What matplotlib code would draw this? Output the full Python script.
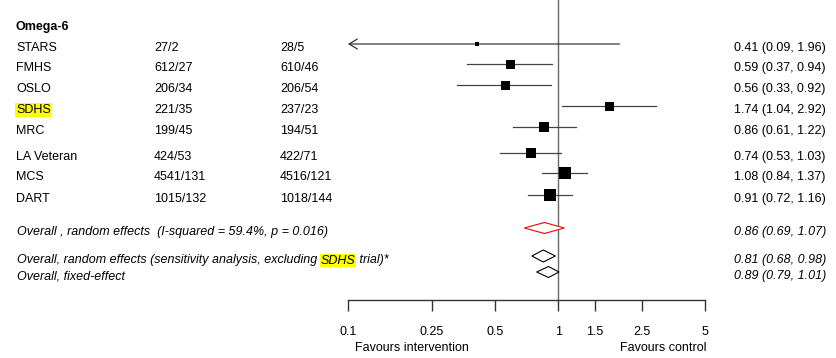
import matplotlib
matplotlib.use('Agg')
import matplotlib.pyplot as plt
import matplotlib.transforms as mtransforms
import numpy as np

plt.rcParams['font.family'] = ['Liberation Sans', 'DejaVu Sans']
plt.rcParams['font.size'] = 9

# study level data
studies = ['STARS', 'FMHS', 'OSLO', 'SDHS', 'MRC', 'LA Veteran', 'MCS', 'DART']
intervention = ['27/2', '612/27', '206/34', '221/35', '199/45', '424/53', '4541/131', '1015/132']
control = ['28/5', '610/46', '206/54', '237/23', '194/51', '422/71', '4516/121', '1018/144']
rr = [0.41, 0.59, 0.56, 1.74, 0.86, 0.74, 1.08, 0.91]
lo = [0.09, 0.37, 0.33, 1.04, 0.61, 0.53, 0.84, 0.72]
hi = [1.96, 0.94, 0.92, 2.92, 1.22, 1.03, 1.37, 1.16]
box_px = [3.5, 9, 9, 9, 10.5, 10.5, 12, 12]   # box side ~ weight

# pooled estimates (diamonds as drawn) and their printed labels
pooled_names = ['Overall , random effects  (I-squared = 59.4%, p = 0.016)',
                'Overall, random effects (sensitivity analysis, excluding ',
                'Overall, fixed-effect']
pooled_rr = [0.86, 0.85, 0.90]
pooled_lo = [0.69, 0.75, 0.79]
pooled_hi = [1.07, 0.97, 1.01]
pooled_text = ['0.86 (0.69, 1.07)', '0.81 (0.68, 0.98)', '0.89 (0.79, 1.01)']
pooled_color = ['red', 'black', 'black']

ticks = [0.1, 0.25, 0.5, 1, 1.5, 2.5, 5]
tick_labels = ['0.1', '0.25', '0.5', '1', '1.5', '2.5', '5']

# layout, rows in pixels from the top
W, H = 836, 358
study_rows = [44, 64, 85, 106, 127, 153, 173, 195]
pooled_rows = [228, 256, 272]
pooled_half = [5.5, 6, 5.5]
axis_y = 300

fig = plt.figure(figsize=(W / 100, H / 100), dpi=100)
ax = fig.add_axes([348 / W, (H - axis_y) / H, (705 - 348) / W, axis_y / H])
ax.set_xscale('log')
ax.set_xlim(0.1, 5)
ax.set_ylim(axis_y, 0)
ax.patch.set_alpha(0)
for s in ['top', 'right', 'left']:
    ax.spines[s].set_visible(False)
ax.spines['bottom'].set_color('#333333')
ax.spines['bottom'].set_linewidth(1)
ax.set_yticks([])
ax.xaxis.set_minor_locator(matplotlib.ticker.NullLocator())
ax.set_xticks(ticks)
ax.set_xticklabels(tick_labels)
ax.tick_params(axis='x', length=8, width=1, color='#333333', pad=10.5, labelsize=9)

# null line
ax.plot([1, 1], [0, axis_y], color='#666666', lw=1, clip_on=False)

xmin = ax.get_xlim()[0]
for y, r, l, h, b in zip(study_rows, rr, lo, hi, box_px):
    if l < xmin:
        ax.annotate('', xy=(xmin, y), xytext=(h, y),
                    arrowprops=dict(arrowstyle='->,head_length=0.5,head_width=0.3',
                                    lw=0.8, color='#222222', shrinkA=0, shrinkB=0,
                                    mutation_scale=12))
    else:
        ax.plot([l, h], [y, y], color='#444444', lw=0.9)
    ax.scatter([r], [y], marker='s', s=(b * 0.72) ** 2, color='black', zorder=3, linewidths=0)

for y, r, l, h, hh, c in zip(pooled_rows, pooled_rr, pooled_lo, pooled_hi, pooled_half, pooled_color):
    ax.fill([l, r, h, r, l], [y, y - hh, y, y + hh, y], facecolor='white', edgecolor=c, lw=0.8, zorder=3)

# text columns: x in figure fraction, y in row pixels
tr = mtransforms.blended_transform_factory(fig.transFigure, ax.transData)
base = 7
ax.text(15 / W, 30, 'Omega-6', transform=tr, fontweight='bold', va='baseline')
for y, name, a, b, r, l, h in zip(study_rows, studies, intervention, control, rr, lo, hi):
    kw = {}
    if name == 'SDHS':
        kw['bbox'] = dict(facecolor='#ffff00', edgecolor='none', pad=0.6)
    ax.text(16 / W, y + base, name, transform=tr, va='baseline', **kw)
    ax.text(154 / W, y + base, a, transform=tr, va='baseline')
    ax.text(280 / W, y + base, b, transform=tr, va='baseline')
    ax.text(734 / W, y + base, f'{r:.2f} ({l:.2f}, {h:.2f})', transform=tr, va='baseline')

for i, (y, name, t) in enumerate(zip(pooled_rows, pooled_names, pooled_text)):
    y_t = y + 3 + 4.5
    txt = ax.text(17 / W, y_t, name, transform=tr, va='baseline', style='italic')
    if i == 1:
        hl = ax.annotate('SDHS', xy=(1, 0), xycoords=txt, va='bottom', ha='left',
                         style='italic', bbox=dict(facecolor='#ffff00', edgecolor='none', pad=0.6))
        ax.annotate(' trial)*', xy=(1, 0), xycoords=hl, va='bottom', ha='left', style='italic')
    ax.text(734 / W, y_t, t, transform=tr, va='baseline', style='italic')

fig.text(355 / W, (H - 351) / H, 'Favours intervention', ha='left', va='baseline', fontsize=9)
fig.text(706 / W, (H - 351) / H, 'Favours control', ha='right', va='baseline', fontsize=9)

fig.savefig('out.png', dpi=100)
